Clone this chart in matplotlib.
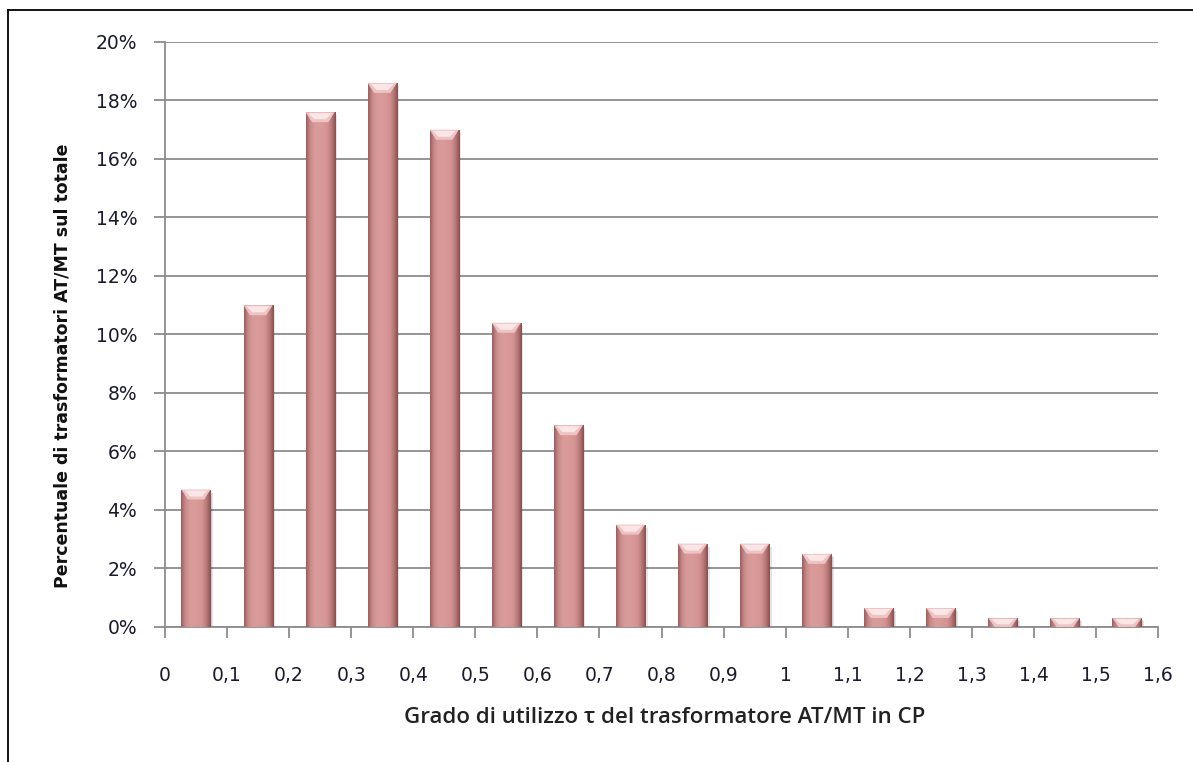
import numpy as np
import matplotlib
matplotlib.use("Agg")
import matplotlib.pyplot as plt
from matplotlib.lines import Line2D
from matplotlib.patches import Polygon, Rectangle
from matplotlib.colors import LinearSegmentedColormap

# data
bin_centers = [0.05, 0.15, 0.25, 0.35, 0.45, 0.55, 0.65, 0.75,
               0.85, 0.95, 1.05, 1.15, 1.25, 1.35, 1.45, 1.55]
percent = [4.7, 11.0, 17.6, 18.6, 17.0, 10.4, 6.9, 3.5,
           2.85, 2.85, 2.5, 0.65, 0.65, 0.3, 0.3, 0.3]
x_ticks = [0, 0.1, 0.2, 0.3, 0.4, 0.5, 0.6, 0.7, 0.8, 0.9, 1.0,
           1.1, 1.2, 1.3, 1.4, 1.5, 1.6]
x_ticklabels = ["0", "0,1", "0,2", "0,3", "0,4", "0,5", "0,6", "0,7", "0,8",
                "0,9", "1", "1,1", "1,2", "1,3", "1,4", "1,5", "1,6"]
y_ticks = [0, 2, 4, 6, 8, 10, 12, 14, 16, 18, 20]
y_ticklabels = [f"{v}%" for v in y_ticks]

bar_w = 0.047
grid_col = "#8c8c8c"
text_col = "#1a1a2e"

fig = plt.figure(figsize=(11.93, 7.62), dpi=100)
ax = fig.add_axes([0.1383, 0.1772, 0.8324, 0.7677])

ax.set_xlim(0, 1.6)
ax.set_ylim(0, 20)
ax.yaxis.grid(True, color=grid_col, lw=1.3)
ax.set_axisbelow(True)
for s in ["top", "right"]:
    ax.spines[s].set_visible(False)
for s in ["left", "bottom"]:
    ax.spines[s].set_color(grid_col)
    ax.spines[s].set_linewidth(1.3)

ax.set_xticks(x_ticks)
ax.set_xticklabels(x_ticklabels)
ax.set_yticks(y_ticks)
ax.set_yticklabels(y_ticklabels)
ax.tick_params(axis="both", direction="out", length=8, width=1.3, color=grid_col,
               labelsize=13.5, labelcolor=text_col)
ax.tick_params(axis="y", pad=12)
ax.tick_params(axis="x", pad=20)

# shading across bar width (cylinder look)
body_cmap = LinearSegmentedColormap.from_list(
    "body", ["#9a5e5e", "#c98a8a", "#d89999", "#da9b9b", "#d89898",
             "#d39393", "#b87878", "#8a4e4e"])
grad = np.linspace(0, 1, 128).reshape(1, -1)

px_per_unit = 585 / 20.0
cap_h = 10 / px_per_unit
shadow_dx = 0.004
shadow_dy = 3 / px_per_unit

bars = ax.bar(bin_centers, percent, width=bar_w, color="#d69696", zorder=3, lw=0)
for rect, h in zip(bars, percent):
    x0 = rect.get_x()
    w = rect.get_width()
    # soft shadow
    ax.add_patch(Rectangle((x0 + shadow_dx, -shadow_dy), w, h, color="#000000",
                           alpha=0.10, lw=0, zorder=2))
    ax.add_patch(Rectangle((x0 + shadow_dx / 2, -shadow_dy / 2), w, h, color="#000000",
                           alpha=0.10, lw=0, zorder=2))
    im = ax.imshow(grad, extent=(x0, x0 + w, 0, h), cmap=body_cmap,
                   aspect="auto", zorder=3.5, interpolation="bilinear")
    im.set_clip_path(rect)
    # top cap highlight
    ch = min(cap_h, h)
    ax.add_patch(Polygon([(x0, h), (x0 + w, h), (x0 + w * 0.78, h - ch),
                          (x0 + w * 0.22, h - ch)],
                         closed=True, color="#eec3c3", lw=0, zorder=4))
    ax.add_patch(Polygon([(x0 + w * 0.1, h - ch * 0.1), (x0 + w * 0.9, h - ch * 0.1),
                          (x0 + w * 0.7, h - ch * 0.7), (x0 + w * 0.3, h - ch * 0.7)],
                         closed=True, color="#fae6e6", lw=0, zorder=4.2))

ax.set_xlim(0, 1.6)
ax.set_ylim(0, 20)

fig.text(0.557, 0.058, "Grado di utilizzo τ del trasformatore AT/MT in CP",
         ha="center", va="center", fontsize=16, fontweight="semibold",
         family="Open Sans", color="#222222")
fig.text(0.052, 0.52, "Percentuale di trasformatori AT/MT sul totale",
         ha="center", va="center", rotation=90, fontsize=12.5, fontweight="bold",
         family=["Liberation Sans Narrow", "DejaVu Sans"], color="#111111")

# outer frame (top and left edges only visible)
fig.add_artist(Line2D([8 / 1193, 1], [1 - 10 / 762, 1 - 10 / 762],
                      transform=fig.transFigure, color="black", lw=1.3))
fig.add_artist(Line2D([8 / 1193, 8 / 1193], [0, 1 - 10 / 762],
                      transform=fig.transFigure, color="black", lw=1.3))

fig.savefig("out.png", dpi=100)
